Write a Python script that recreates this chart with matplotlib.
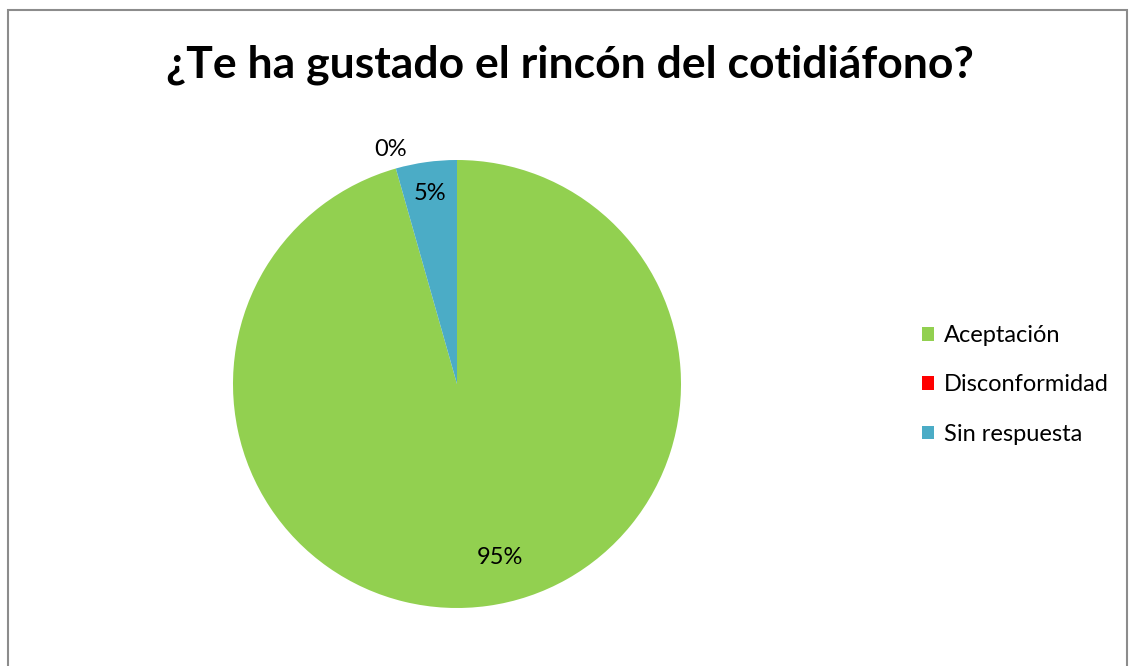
import numpy as np
import matplotlib.pyplot as plt
from matplotlib.patches import Rectangle, Patch

plt.rcParams['font.family'] = ['Lato', 'DejaVu Sans']

#### data
categories = ['Aceptación', 'Disconformidad', 'Sin respuesta']
values = [95.6, 0, 4.4]
pct_labels = ['95%', '0%', '5%']
colors = ['#92D050', '#FF0000', '#4BACC6']
title = '¿Te ha gustado el rincón del cotidiáfono?'

W, H = 1129, 666
fig = plt.figure(figsize=(W / 100, H / 100), dpi=100)

# frame around the chart
fig.patches.append(Rectangle((8 / W, -0.02), (1127 - 8) / W, 1.02 - 10 / H,
                             transform=fig.transFigure, fill=False,
                             edgecolor='#8c8c8c', linewidth=1.5))

# pie axes: centre (457, 384), radius 224 px
cx, cy, r = 457, 384, 224
ax = fig.add_axes([(cx - r) / W, (H - cy - r) / H, 2 * r / W, 2 * r / H])
wedges, _ = ax.pie(values, colors=colors, startangle=90, counterclock=False,
                   radius=1, wedgeprops=dict(linewidth=0))
ax.set_xlim(-1, 1)
ax.set_ylim(-1, 1)
ax.axis('off')

# data labels (distance from centre, angle nudge in degrees)
label_dist = [0.8, 1.09, 0.86]
label_nudge = [6, 0, 0]
for w, lbl, d, n in zip(wedges, pct_labels, label_dist, label_nudge):
    ang = np.deg2rad((w.theta1 + w.theta2) / 2 + n)
    ax.text(d * np.cos(ang), d * np.sin(ang), lbl, ha='center', va='center',
            fontsize=17, color='black')

fig.text(570 / W, 1 - 65 / H, title, ha='center', va='center',
         fontsize=32, fontweight='bold')

handles = [Patch(facecolor=c, edgecolor='none') for c in colors]
fig.legend(handles, categories, loc='center left',
           bbox_to_anchor=(901 / W, 1 - 385 / H), frameon=False,
           fontsize=17, handlelength=0.5, handleheight=0.5,
           handletextpad=0.4, labelspacing=1.2)

fig.savefig('out.png', dpi=100)
